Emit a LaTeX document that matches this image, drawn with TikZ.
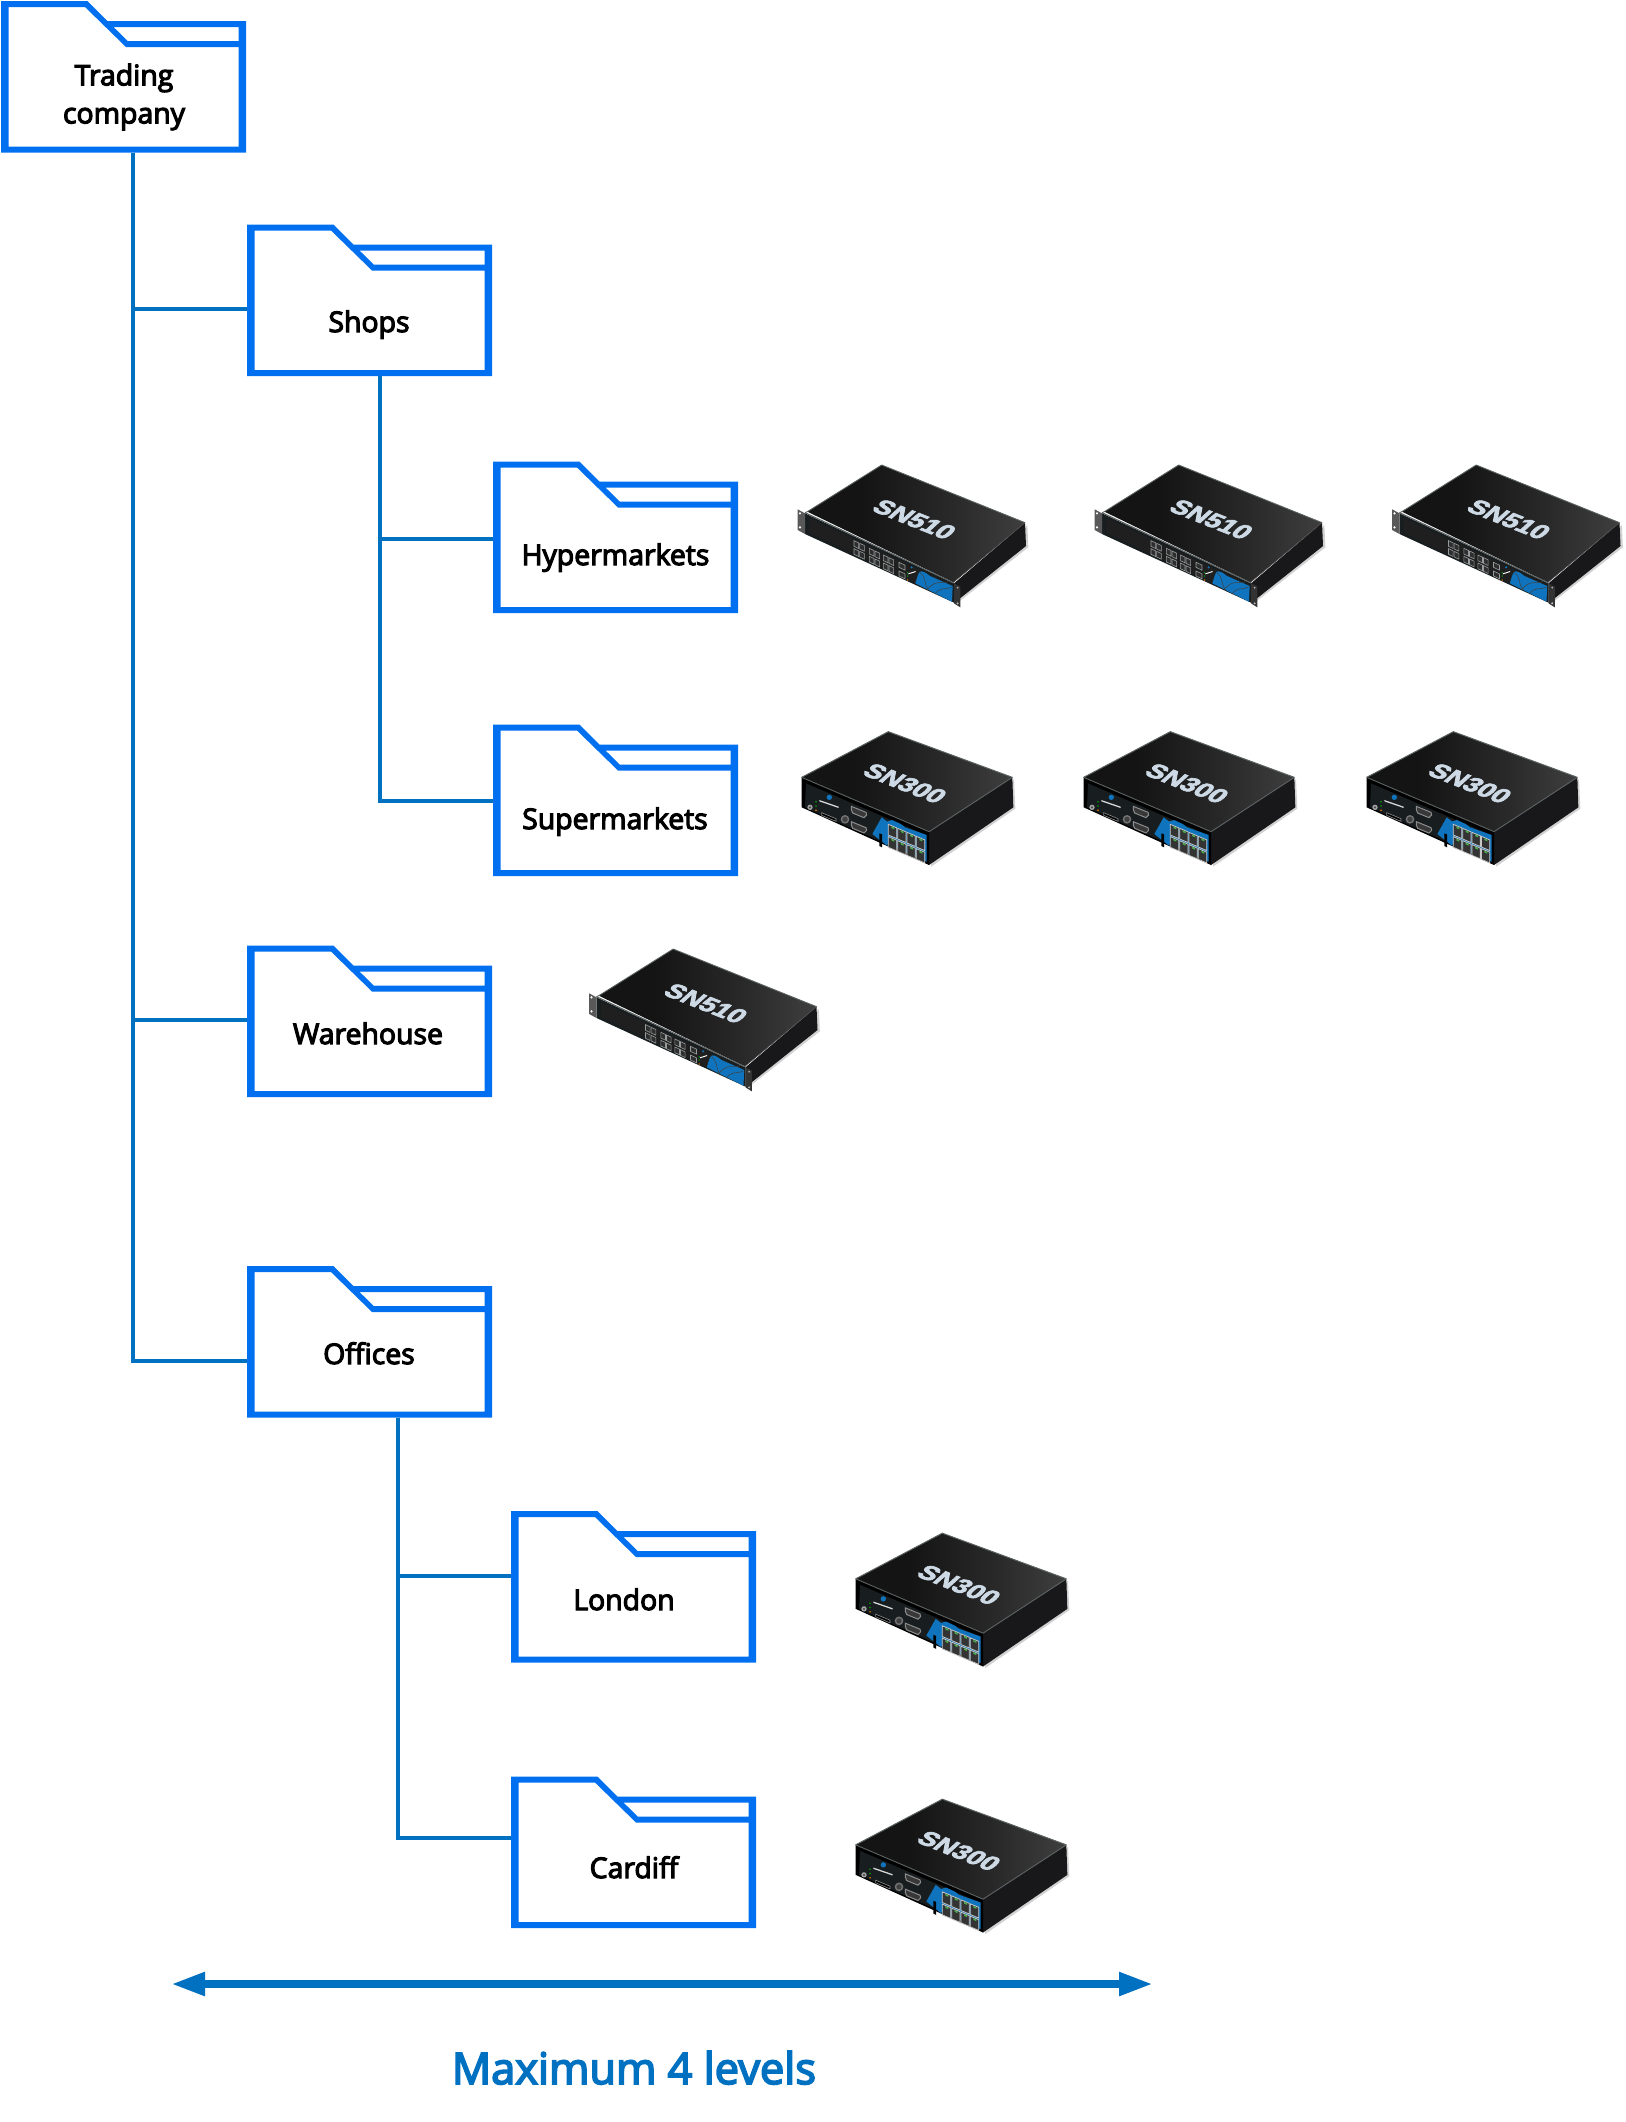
\documentclass[tikz,border=0pt]{standalone}
\usepackage{fontspec}
\setmainfont{Open Sans}
\newfontfamily\labfont{Open Sans}[FakeBold=4]
\newfontfamily\devfont{Liberation Sans}[BoldFeatures={FakeBold=3}]
\usetikzlibrary{arrows.meta,calc}
\definecolor{folderblue}{RGB}{0,112,240}
\definecolor{linkblue}{RGB}{0,112,192}
\definecolor{devblue}{RGB}{15,116,189}
\definecolor{devtext}{RGB}{205,218,230}
\definecolor{devside}{RGB}{24,24,26}
\definecolor{devfront}{RGB}{24,30,32}
\definecolor{devrim}{RGB}{92,98,98}
\definecolor{portline}{RGB}{150,156,156}
\pgfdeclarehorizontalshading{devtop}{100bp}{color(0bp)=(black!92); color(38bp)=(black!92); color(58bp)=(black!84); color(74bp)=(black!76); color(86bp)=(black!66); color(95bp)=(black!78); color(100bp)=(black!85)}
\tikzset{
  folderbody/.style={rectangle,minimum width=122.5pt,minimum height=75.75pt,inner sep=0pt,outer sep=0pt},
  folderfill/.style={fill=folderblue,draw=none},
  lab/.style={font=\labfont\fontsize{14.2pt}{19pt}\selectfont,text=black,inner sep=0pt,anchor=base,align=center},
  link/.style={draw=linkblue,line width=2pt},
  span/.style={draw=linkblue,line width=4pt,{Triangle[length=17pt,width=11pt]}-{Triangle[length=17pt,width=11pt]}},
  devtitle/.style={font=\devfont\bfseries\fontsize{13.3pt}{13pt}\selectfont,text=devtext,inner sep=0pt},
  porta/.style={draw=portline,line width=0.3pt,fill=black!82},
  snfive/.pic={
    \begin{scope}[x=0.16667pt,y=-0.16667pt]
      \fill[black!18] (528,462) -- (745,292) -- (742,225) -- (530,400) -- cycle;
      \fill[devside] (522,400) -- (735,218) -- (738,288) -- (540,445) -- (522,458) -- cycle;
      \fill[devfront] (75,190) -- (522,400) -- (522,458) -- (75,252) -- cycle;
      \fill[black!88] (88,205) -- (516,405) -- (516,452) -- (88,248) -- cycle;
      \fill[black!65] (53,178) -- (75,190) -- (75,252) -- (53,240) -- cycle;
      \fill[white] (60,190) circle (3.5) (60,232) circle (3.5);
      \fill[black!80] (522,400) -- (541,410) -- (541,472) -- (522,460) -- cycle;
      \fill[black!30] (533,413) circle (3) (533,460) circle (3.5);
      \path[shading=devtop] (82,185) -- (305,45) -- (735,218) -- (520,397) -- cycle;
      \draw[devrim,line width=0.45pt] (75,188) -- (82,185) -- (305,45) -- (735,218);
      \draw[devrim,line width=0.55pt] (75,188) -- (522,399);
      \draw[black!70,line width=0.3pt] (520,397) -- (735,218);
      \foreach \gx/\gy in {222/272,268/295,310/315}{
        \foreach \i in {0,1}{\foreach \j in {0,1}{
          \draw[porta] (\gx+\i*17,\gy+\i*8+\j*24) -- ++(14,6.5) -- ++(0,17) -- ++(-14,-6.5) -- cycle;
        }}}
      \foreach \j in {0,1}{\draw[porta] (357,337+\j*26) -- ++(18,8.5) -- ++(0,15) -- ++(-18,-8.5) -- cycle;}
      \fill[green!70!black] (383,368) circle (2.2) (383,378) circle (2.2);
      \fill[orange] (383,390) circle (2.2);
      \fill[white] (385,370) -- (407,363) -- (407,366) -- (385,373) -- cycle;
      \fill[devblue] (395,352) circle (3.5);
      \fill[devblue] (406,400) .. controls (412,380) and (416,362) .. (424,364) .. controls (436,366) and (442,372) .. (450,378) -- (518,408) -- (516,455) -- cycle;
      \draw[black!75,line width=0.25pt] (420,368) .. controls (440,385) and (430,395) .. (445,420);
      \draw[black!75,line width=0.25pt] (440,420) .. controls (470,385) and (480,405) .. (505,395);
      \draw[black!75,line width=0.25pt] (465,432) .. controls (480,410) and (495,420) .. (514,412);
      \node[devtitle,cm={0.93,-0.37,0.68,0.62,(0,0)}] (-title) at (403,208) {SN510};
    \end{scope}
  },
  snthree/.pic={
    \begin{scope}[x=0.16667pt,y=-0.16667pt]
      \fill[black!18] (453,440) -- (706,266) -- (702,178) -- (460,340) -- cycle;
      \fill[devside] (447,335) -- (697,172) -- (700,262) -- (447,435) -- cycle;
      \fill[black] (65,172) -- (447,335) -- (447,435) -- (65,262) -- cycle;
      \fill[devfront] (78,190) -- (438,345) -- (438,425) -- (75,262) -- cycle;
      \path[shading=devtop] (65,172) -- (325,35) -- (697,172) -- (447,335) -- cycle;
      \draw[devrim,line width=0.5pt] (65,172) -- (325,35) -- (697,172);
      \draw[devrim,line width=0.45pt] (65,172) -- (447,335) -- (697,172);
      \fill[black!35] (90,262) circle (8);
      \fill[black!70] (90,262) circle (3.5);
      \fill[green!65!black] (108,245) circle (2.6) (108,258) circle (2.6);
      \fill[orange] (108,271) circle (2.6);
      \fill[white!85!black] (118,240) -- (176,260) -- (176,264) -- (118,244) -- cycle;
      \fill[devblue] (148,232) circle (8);
      \draw[black!45,fill=black,line width=0.3pt] (125,278) -- (168,296) -- (168,304) -- (125,286) -- cycle;
      \fill[black!55] (195,298) circle (13);
      \fill[black!75] (195,298) circle (8);
      \foreach \yy in {272,318}{
        \draw[black!45,fill=black!78,line width=0.5pt] (214,\yy-13) -- (258,\yy+5) -- (260,\yy+13) -- (252,\yy+21) -- (218,\yy+7) -- (214,\yy-3) -- cycle;
      }
      \fill[devblue] (277,342) -- (305,292) -- (322,305) -- (322,378) -- cycle;
      \fill[black] (298,340) -- (306,343) -- (306,382) -- (298,378) -- cycle;
      \fill[devblue] (320,305) -- (336,300) -- (362,312) -- (375,322) -- (440,345) -- (440,425) -- (320,372) -- cycle;
      \foreach \i in {0,1,2,3}{\foreach \j in {0,1}{
        \draw[black!22,fill=black!80,line width=0.4pt] (325+\i*28,313+\i*12+\j*37) -- ++(25,10.5) -- ++(0,32) -- ++(-25,-10.5) -- cycle;
        \fill[green!55!black!70!white] (334+\i*28,319+\i*12+\j*37) -- ++(9,4) -- ++(0,5) -- ++(-9,-4) -- cycle;
      }}
      \node[devtitle,cm={0.93,-0.37,0.68,0.62,(0,0)}] (-title) at (375,190) {SN300};
    \end{scope}
  }
}
\newcommand{\folderat}[3]{%
  \node[folderbody] (#1) at (#2+122.5,#3+75.75) {};
  \fill[folderfill,shift={(#2,#3)}]
    (0,0) rectangle (7.7,151.5)
    (0,0) rectangle (86,6)
    (84,6) -- (125,46) -- (127.3,40.7) -- (86.3,0) -- cycle
    (125,40) rectangle (245,46)
    (106,20) rectangle (245,26)
    (237.7,20) rectangle (245,151.5)
    (0,145.5) rectangle (245,151.5);
}
\begin{document}
\begin{tikzpicture}[x=0.5pt,y=-0.5pt]
\useasboundingbox (0,0) rectangle (1626,2122);
% folders
\folderat{trading}{1}{1}
\folderat{shops}{247}{224.5}
\folderat{hyper}{493}{461.5}
\folderat{super}{493}{724.5}
\folderat{warehouse}{247}{945.5}
\folderat{offices}{247}{1266}
\folderat{london}{511}{1511}
\folderat{cardiff}{511}{1776.5}
% labels
\node[lab,anchor=center] (tradingt) at (124,97) {Trading\\company};
\node[lab] (shopst) at (369,332) {Shops};
\node[lab] (hypert) at (615.5,565) {Hypermarkets};
\node[lab] (supert) at (615,829) {Supermarkets};
\node[lab] (warehouset) at (368,1044) {Warehouse};
\node[lab] (officest) at (369,1364) {Offices};
\node[lab] (londont) at (624,1610) {London};
\node[lab] (cardifft) at (634,1878) {Cardiff};
% connector points
\coordinate (tj) at ($(trading.south)+(9.5,0)$);
\coordinate (sj) at ($(shops.south)+(10,0)$);
\coordinate (oj) at ($(offices.south)+(28,0)$);
\coordinate (shopsin) at ($(shops.west)+(0,8.5)$);
\coordinate (hyperin) at ($(hyper.west)+(0,1.5)$);
\coordinate (superin) at ($(super.west)+(0,0.5)$);
\coordinate (warehousein) at ($(warehouse.west)+(0,-1.5)$);
\coordinate (officesin) at ($(offices.west)+(0,19)$);
\coordinate (londonin) at ($(london.west)+(0,-11)$);
\coordinate (cardiffin) at ($(cardiff.west)+(0,-14)$);
% connectors
\draw[link] (tj) |- (officesin);
\draw[link] (tj |- shopsin) -- (shopsin);
\draw[link] (tj |- warehousein) -- (warehousein);
\draw[link] (sj) |- (superin);
\draw[link] (sj |- hyperin) -- (hyperin);
\draw[link] (oj) |- (cardiffin);
\draw[link] (oj |- londonin) -- (londonin);
% devices
\pic (a1) at (780,450) {snfive};
\pic (a2) at (1077,450) {snfive};
\pic (a3) at (1374.5,450) {snfive};
\pic (b1) at (780,720) {snthree};
\pic (b2) at (1062,720) {snthree};
\pic (b3) at (1345,720) {snthree};
\pic (w1) at (571.5,934) {snfive};
\pic (l1) at (834,1521.5) {snthree};
\pic (c1) at (834,1787.5) {snthree};
% level span
\coordinate (spanl) at (171,1984);
\coordinate (spanr) at (1153,1984);
\draw[span] (spanl) -- (spanr);
\node[font=\labfont\fontsize{21.7pt}{22pt}\selectfont,text=linkblue,inner sep=0pt,anchor=base] (maxt) at (634,2084) {Maximum 4 levels};
\end{tikzpicture}
\end{document}
